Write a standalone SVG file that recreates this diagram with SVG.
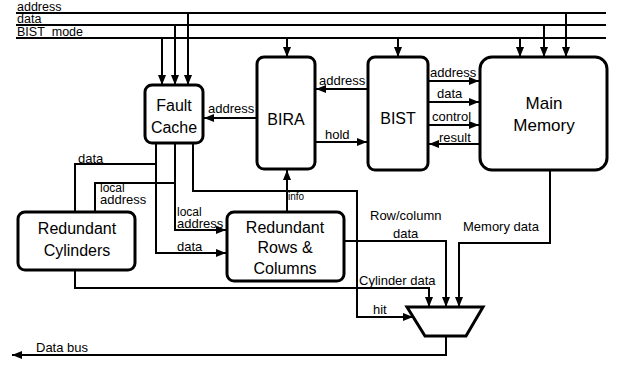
<svg xmlns="http://www.w3.org/2000/svg" width="618" height="367" viewBox="0 0 618 367">
<defs>
<marker id="ah" viewBox="0 0 10 8" refX="10" refY="4" markerWidth="10" markerHeight="8" markerUnits="userSpaceOnUse" orient="auto">
<path d="M0,0 L10,4 L0,8 z" fill="#000"/>
</marker>
<style>
.box{fill:#fff;stroke:#000;stroke-width:3}
.ln{fill:none;stroke:#000;stroke-width:2}
.ar{fill:none;stroke:#000;stroke-width:2;marker-end:url(#ah)}
.big{font-family:"Liberation Sans",Arial,sans-serif;font-size:16px;text-anchor:middle;fill:#000}
.lbl{font-family:"Liberation Sans",Arial,sans-serif;font-size:13px;fill:#000}
.bus{font-family:"Liberation Sans",Arial,sans-serif;font-size:12.5px;fill:#000}
.sm{font-family:"Liberation Sans",Arial,sans-serif;font-size:12px;fill:#000}
</style>
</defs>
<rect width="618" height="367" fill="#fff"/>
<g id="connectors">
<path class="ln" d="M16 13H606M16 25H606M16 38H606"/>
<path class="ar" d="M162 38V85"/>
<path class="ar" d="M175 25V85"/>
<path class="ar" d="M188 13V85"/>
<path class="ar" d="M287 38V57"/>
<path class="ar" d="M398 38V57"/>
<path class="ar" d="M520 38V57"/>
<path class="ar" d="M544 25V57"/>
<path class="ar" d="M566 13V57"/>
<path class="ar" d="M257 118H204"/>
<path class="ar" d="M368 89H316"/>
<path class="ar" d="M315 142H367"/>
<path class="ar" d="M428 81H479"/>
<path class="ar" d="M428 102H479"/>
<path class="ar" d="M428 125H479"/>
<path class="ar" d="M480 144H429"/>
<path class="ar" d="M156 143V253H226"/>
<path class="ln" d="M156 164H75V212"/>
<path class="ar" d="M175 143V230H226"/>
<path class="ln" d="M175 183H95V212"/>
<path class="ar" d="M193 143V191H357V317H413"/>
<path class="ar" d="M287 212V170"/>
<path class="ar" d="M344 241H446V307"/>
<path class="ar" d="M550 170V243H459V307"/>
<path class="ar" d="M75 270V288H429V307"/>
<path class="ar" d="M446 336V355H12"/>
</g>
<g id="bus-labels">
<text class="bus" x="17" y="11">address</text>
<text class="bus" x="17" y="23">data</text>
<text class="bus" x="17" y="36">BIST_mode</text>
</g>
<g id="fault-cache">
<rect class="box" x="145" y="85" width="58" height="58" rx="7"/>
<text class="big" x="174" y="111">Fault</text>
<text class="big" x="174" y="133">Cache</text>
</g>
<g id="bira">
<rect class="box" x="257" y="57" width="58" height="112" rx="7"/>
<text class="big" x="286" y="125">BIRA</text>
</g>
<g id="bist">
<rect class="box" x="368" y="57" width="60" height="113" rx="7"/>
<text class="big" x="398" y="124">BIST</text>
</g>
<g id="main-memory">
<rect class="box" x="480" y="57" width="127" height="113" rx="12"/>
<text class="big" x="544" y="109" style="font-size:17px">Main</text>
<text class="big" x="544" y="131" style="font-size:17px">Memory</text>
</g>
<g id="redundant-cylinders">
<rect class="box" x="18" y="212" width="117" height="58" rx="7"/>
<text class="big" x="77" y="234">Redundant</text>
<text class="big" x="77" y="256">Cylinders</text>
</g>
<g id="redundant-rows-columns">
<rect class="box" x="227" y="212" width="117" height="69" rx="7"/>
<text class="big" x="285" y="233">Redundant</text>
<text class="big" x="285" y="253">Rows &amp;</text>
<text class="big" x="285" y="274">Columns</text>
</g>
<g id="mux">
<polygon points="407,307 483,307 466,336 425,336" fill="#fff" stroke="#000" stroke-width="3"/>
</g>
<g id="labels">
<text class="lbl" x="208" y="113">address</text>
<text class="lbl" x="319" y="85">address</text>
<text class="lbl" x="325" y="139">hold</text>
<text class="lbl" x="430" y="77">address</text>
<text class="lbl" x="437" y="98">data</text>
<text class="lbl" x="432" y="121">control</text>
<text class="lbl" x="439" y="142">result</text>
<text class="lbl" x="78" y="163">data</text>
<text class="sm" x="100" y="192">local</text>
<text class="lbl" x="100" y="204">address</text>
<text class="sm" x="177" y="216">local</text>
<text class="lbl" x="177" y="228">address</text>
<text class="lbl" x="177" y="251">data</text>
<text class="sm" x="288" y="200" style="font-size:10px">info</text>
<text class="lbl" x="370" y="220">Row/column</text>
<text class="lbl" x="393" y="238">data</text>
<text class="lbl" x="463" y="231">Memory data</text>
<text class="lbl" x="359" y="285">Cylinder data</text>
<text class="lbl" x="373" y="314">hit</text>
<text class="lbl" x="36" y="352">Data bus</text>
</g>
</svg>
